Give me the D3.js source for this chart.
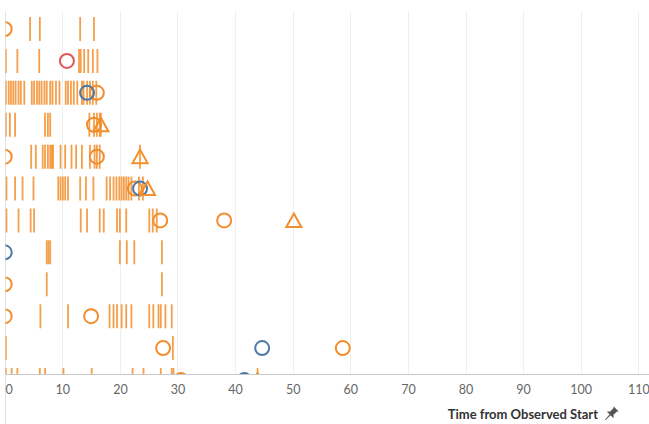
<!DOCTYPE html>
<html>
<head>
<meta charset="utf-8">
<script src="https://cdn.jsdelivr.net/npm/d3@7"></script>
<style>
  html, body { margin: 0; padding: 0; background: #fff; }
  svg { display: block; }
  text { font-family: Lato, "Open Sans", sans-serif; }
</style>
</head>
<body>
<svg id="chart" width="649" height="424"></svg>
<script>
// ---- data (time from observed start, per case row) ----
const rowIds = [1, 2, 3, 4, 5, 6, 7, 8, 9, 10, 11, 12];
const tickTimes = [
  [4.4, 6.1, 13.1, 15.5],
  [0.2, 2.2, 6.0, 12.9, 13.2, 13.8, 14.5, 15.3, 16.1],
  [0.2, 0.7, 1.1, 1.5, 1.9, 2.4, 2.8, 3.4, 4.7, 5.1, 5.6, 6.0, 6.4, 6.9, 7.3, 7.9, 8.3, 8.9, 9.5,
   10.6, 11.0, 11.5, 12.0, 12.6, 13.4, 13.7, 14.3, 14.8, 15.3, 15.9],
  [0.2, 0.9, 1.8, 7.0, 7.5, 7.9, 14.7, 15.5, 16.0, 16.5, 16.7],
  [4.6, 5.4, 6.6, 7.0, 7.5, 7.9, 8.2, 8.4, 9.7, 10.5, 11.6, 12.4, 13.4, 14.8, 15.6, 16.0, 16.5, 23.5],
  [0.3, 1.8, 3.1, 5.0, 9.3, 9.7, 10.1, 10.5, 11.0, 13.1, 14.1, 15.4, 17.7, 18.3, 18.9, 19.4, 19.9,
   20.3, 20.7, 21.1, 21.5, 22.0, 23.3, 24.0],
  [0.3, 2.4, 4.5, 5.1, 13.2, 14.3, 16.5, 17.2, 19.5, 20.0, 21.1, 25.1, 25.7, 26.4],
  [7.3, 7.6, 7.9, 20.0, 21.2, 22.5, 27.3],
  [7.3, 27.3],
  [6.2, 11.0, 18.2, 18.9, 19.5, 20.3, 21.1, 22.0, 25.1, 25.8, 26.7, 27.1, 27.9, 29.0],
  [0.2, 29.2],
  [0.2, 1.2, 2.2, 6.1, 7.0, 10.2, 15.1, 22.2, 24.1, 27.1, 29.0, 29.3, 43.9]
];
// [row, time]
const orangeCircles = [[1, 0], [3, 16.0], [4, 15.5], [5, 0], [5, 16.0], [6, 22.6], [7, 27.0], [7, 38.1],
  [9, 0], [10, 0], [10, 15.0], [11, 27.5], [11, 58.7], [12, 30.6]];
const blueCircles = [[3, 14.3], [6, 23.5], [8, 0], [11, 44.7], [12, 41.6]];
const redCircles = [[2, 10.8]];
const triangles = [[4, 16.7], [5, 23.5], [6, 24.8], [7, 50.2], [12, 43.9]];
const xTicks = [0, 10, 20, 30, 40, 50, 60, 70, 80, 90, 100, 110];
const axisTitle = "Time from Observed Start";

// ---- styling / layout ----
const ORANGE = "#F28E2B", BLUE = "#4E79A7", RED = "#E15759";
const svg = d3.select("#chart");
const x = d3.scaleLinear().domain([0, 110]).range([4.7, 638.3]);
const y = d3.scalePoint().domain(rowIds).range([29, 380]);
const plotTop = 11, plotBottom = 374, plotLeft = 5.5, plotRight = 649;

svg.append("defs").append("clipPath").attr("id", "plotClip")
  .append("rect").attr("x", plotLeft).attr("y", plotTop)
  .attr("width", plotRight - plotLeft).attr("height", plotBottom - plotTop);

// gridlines
svg.append("g").selectAll("line").data(xTicks.slice(1)).join("line")
  .attr("x1", d => Math.round(x(d)) + 0.5).attr("x2", d => Math.round(x(d)) + 0.5)
  .attr("y1", plotTop).attr("y2", plotBottom)
  .attr("stroke", "#efefef").attr("stroke-width", 1);
// left pane line (full height)
svg.append("line").attr("x1", 5.5).attr("x2", 5.5).attr("y1", plotTop).attr("y2", 424)
  .attr("stroke", "#e2e2e2").attr("stroke-width", 1);

const plot = svg.append("g").attr("clip-path", "url(#plotClip)");

// event ticks
const tickData = tickTimes.flatMap((arr, i) => arr.map(t => ({ row: rowIds[i], t })));
plot.append("g").selectAll("line").data(tickData).join("line")
  .attr("x1", d => x(d.t)).attr("x2", d => x(d.t))
  .attr("y1", d => y(d.row) - 12).attr("y2", d => y(d.row) + 12)
  .attr("stroke", ORANGE).attr("stroke-width", 1.8).attr("stroke-opacity", 0.85);

function drawCircles(data, color) {
  plot.append("g").selectAll("circle").data(data).join("circle")
    .attr("cx", d => x(d[1])).attr("cy", d => y(d[0])).attr("r", 7)
    .attr("fill", "none").attr("stroke", color).attr("stroke-width", 2);
}
drawCircles(orangeCircles, ORANGE);
drawCircles(blueCircles, BLUE);
drawCircles(redCircles, RED);

const triPath = "M0,-7L7.5,6.5L-7.5,6.5Z";
plot.append("g").selectAll("path").data(triangles).join("path")
  .attr("d", triPath)
  .attr("transform", d => `translate(${x(d[1])},${y(d[0])})`)
  .attr("fill", "none").attr("stroke", ORANGE).attr("stroke-width", 2)
  .attr("stroke-linejoin", "miter");

// x axis
const axisG = svg.append("g").attr("transform", `translate(0,${plotBottom})`)
  .call(d3.axisBottom(x).tickValues(xTicks).tickSize(0).tickPadding(11).tickFormat(d3.format("d")));
axisG.select(".domain").remove();
axisG.selectAll("text").attr("fill", "#666").attr("font-size", 12.5)
  .style("font-family", "Lato, 'Open Sans', sans-serif");
axisG.selectAll(".tick").filter(d => d === 0).select("text").attr("x", 4);
svg.append("line").attr("x1", plotLeft).attr("x2", plotRight)
  .attr("y1", plotBottom + 0.5).attr("y2", plotBottom + 0.5)
  .attr("stroke", "#c8c8c8").attr("stroke-width", 1);

// axis title
svg.append("text").attr("x", 598).attr("y", 419).attr("text-anchor", "end")
  .attr("font-size", 13).attr("font-weight", "bold").attr("fill", "#333")
  .text(axisTitle);
// pin icon
svg.append("path")
  .attr("transform", "translate(611,414) rotate(45) scale(1.2)")
  .attr("d", "M-3,-6L3,-6L2,-5L2,-1L4,1L-4,1L-2,-1L-2,-5Z M-0.6,1L0.6,1L0.3,7L-0.3,7Z")
  .attr("fill", "#555");
</script>
</body>
</html>
